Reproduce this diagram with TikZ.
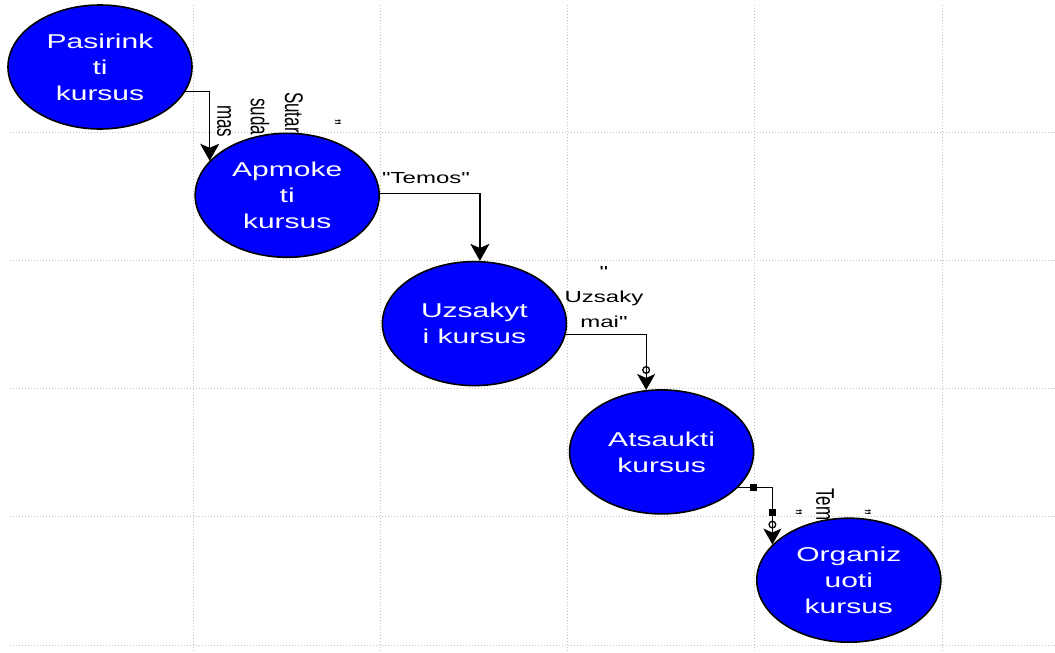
\documentclass[tikz,border=0pt]{standalone}
\usepackage{fontspec}
\setmainfont{Liberation Sans}
\newfontfamily\widefont[FakeStretch=1.5]{Liberation Sans}
\usetikzlibrary{shapes.geometric,arrows.meta}
\definecolor{ucblue}{RGB}{0,0,255}
\definecolor{gridgray}{RGB}{195,195,195}

\begin{document}
\begin{tikzpicture}[x=1pt,y=-1pt,
  usecase/.style={ellipse, draw=black, line width=1.6pt, fill=ucblue,
    minimum width=184pt, minimum height=124pt, inner sep=0pt,
    text=white, align=center, font=\widefont\fontsize{20}{26}\selectfont},
  flow/.style={draw=black, line width=1.3pt},
  headtip/.style={-{Stealth[length=17pt,width=19pt,inset=4pt]}},
  ringtip/.style={-{Circle[open,length=8pt,width=8pt,line width=1.3pt] Stealth[length=16pt,width=18pt,inset=4pt]}},
  lbl/.style={inner sep=0pt, align=center, font=\widefont\fontsize{16}{25}\selectfont},
  vlbl/.style={inner sep=0pt, rotate=-90, yscale=1.5, anchor=west, font=\fontsize{17}{20}\selectfont},
  handle/.style={rectangle, fill=black, draw=none, minimum size=7pt, inner sep=0pt},
  gridline/.style={draw=gridgray, line width=1pt, dash pattern=on 1.2pt off 1.8pt},
]
\useasboundingbox (0,0) rectangle (1055,653);
\fill[white] (0,0) rectangle (1055,653);

% background grid
\foreach \gx in {193,380.25,567.5,754.75,942}
  \draw[gridline] (\gx,5) -- (\gx,653);
\foreach \gy in {132,260.25,388.5,516.75,645}
  \draw[gridline] (10,\gy) -- (1055,\gy);

% vertical flow labels (partly hidden behind the use cases)
\node[vlbl] (s1) at (332,119) {"};
\node[vlbl] (s2) at (294,92) {Sutar};
\node[vlbl] (s3) at (260,98) {suda};
\node[vlbl] (s4) at (224,105) {mas};
\node[vlbl] (e1) at (862,509) {"};
\node[vlbl] (e2) at (825,488) {Tem};
\node[vlbl] (e3) at (793,509) {"};

% horizontal flow labels
\node[lbl] (l2) at (426,178) {"Temos"};
\node[lbl] (l3) at (604,297) {"\\Uzsaky\\mai"};

% use cases
\node[usecase] (p1) at (100,67)    {Pasirink\\ti\\kursus};
\node[usecase] (p2) at (287.2,195.3) {Apmoke\\ti\\kursus};
\node[usecase] (p3) at (474.4,323.6) {Uzsakyt\\i kursus};
\node[usecase] (p4) at (661.6,451.9) {Atsaukti\\kursus};
\node[usecase] (p5) at (848.8,580.2) {Organiz\\uoti\\kursus};

% flows
\draw[flow, headtip] (p1.-16.5) -| (p2.156.4);
\draw[flow, headtip] (p2.1.4) -| (p3.85);
\draw[flow, ringtip] (p3.-7.8) -| (p4.104.3);
\draw[flow, ringtip] (p4.-25.8) -|
  node[handle, pos=0.227] (h1) {}
  node[handle, pos=0.718] (h2) {}
  (p5.155.3);
\end{tikzpicture}
\end{document}
